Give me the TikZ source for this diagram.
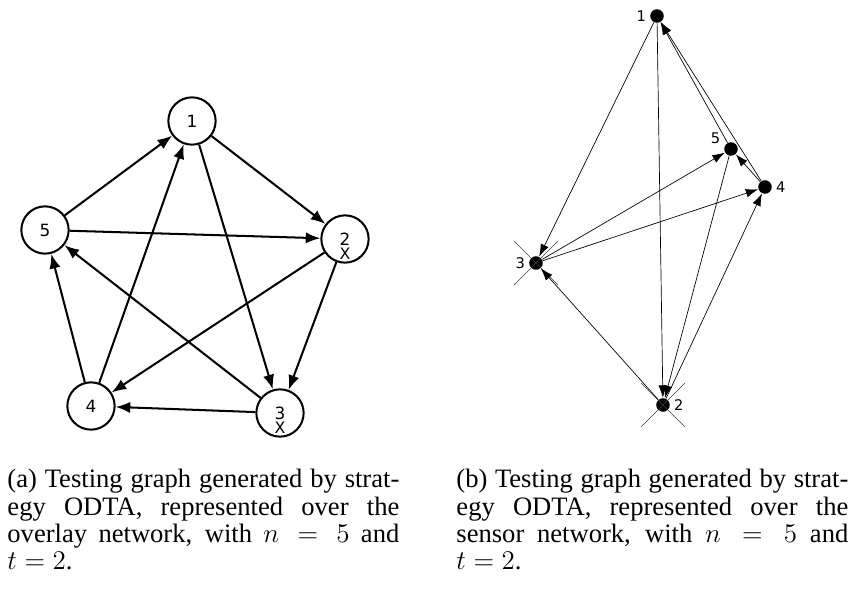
\documentclass[tikz,border=0pt]{standalone}
\usepackage{fontspec}
\setmainfont{Liberation Serif}
\newfontfamily\graphfont{DejaVu Sans}
\usetikzlibrary{arrows.meta}

\begin{document}
\begin{tikzpicture}[x=0.444pt, y=-0.444pt,
        onode/.style={draw, circle, line width=0.9pt, inner sep=0pt, minimum size=21pt, font=\graphfont\fontsize{7.5}{8}\selectfont},
        oedge/.style={-{Latex[length=6.5pt,width=5pt]}, line width=0.9pt},
        snode/.style={circle, fill, inner sep=0pt, minimum size=6pt},
        slabel/.style={font=\graphfont\fontsize{6.5}{7}\selectfont, inner sep=1.5pt},
        sedge/.style={-{Latex[length=5.5pt,width=3.8pt]}, line width=0.3pt},
        xmark/.style={font=\graphfont\fontsize{7}{7}\selectfont, inner sep=0pt, yshift=-6.5pt},
        crossline/.style={line width=0.3pt, black!75},
        caption/.style={text width=174pt, align=justify, inner sep=0pt, anchor=base west, font=\fontsize{11.8}{12}\selectfont}]
        \useasboundingbox (0,0) rectangle (853,590);

        % Define the nodes (overlay network)
        \node[onode] (o1) at (192,121) {1};
        \node[onode] (o5) at (45,230) {5};
        \node[onode, label={[xmark]center:X}] (o2) at (345,239) {2};
        \node[onode] (o4) at (91,406) {4};
        \node[onode, label={[xmark]center:X}] (o3) at (280,413) {3};

        % Draw the edges
        \draw[oedge] (o1) -- (o2);
        \draw[oedge] (o1) -- (o3);
        \draw[oedge] (o5) -- (o1);
        \draw[oedge] (o4) -- (o1);
        \draw[oedge] (o5) -- (o2);
        \draw[oedge] (o3) -- (o5);
        \draw[oedge] (o2) -- (o4);
        \draw[oedge] (o2) -- (o3);
        \draw[oedge] (o3) -- (o4);
        \draw[oedge] (o4) -- (o5);

        % Define the nodes (sensor network)
        \node[snode, label={[slabel]left:1}] (s1) at (657,16) {};
        \node[snode, label={[slabel]170:5}] (s5) at (731,149) {};
        \node[snode, label={[slabel]right:4}] (s4) at (765,187) {};
        \node[snode, label={[slabel]left:3}] (s3) at (536,263) {};
        \node[snode, label={[slabel]right:2}] (s2) at (663,405) {};

        % Crosses on the faulty sensors
        \draw[crossline] (s3) ++(-22,-22) -- ++(44,44);
        \draw[crossline] (s3) ++(-22,22) -- ++(44,-44);
        \draw[crossline] (s2) ++(-22,-22) -- ++(44,44);
        \draw[crossline] (s2) ++(-22,22) -- ++(44,-44);

        % Draw the edges
        \draw[sedge] (s1) -- (s2);
        \draw[sedge] (s1) -- (s3);
        \draw[sedge] (s5) -- (s1);
        \draw[sedge] (s4) -- (s1);
        \draw[sedge] (s5) -- (s2);
        \draw[sedge] (s3) -- (s5);
        \draw[sedge] (s2) -- (s4);
        \draw[sedge] (s2) -- (s3);
        \draw[sedge] (s3) -- (s4);
        \draw[sedge] (s4) -- (s5);

        % Add captions
        \node[caption] (capa) at (7,488) {(a) Testing graph generated by strat-\linebreak egy ODTA, represented over the\linebreak overlay network, with $n = 5$ and\linebreak $t = 2$.};
        \node[caption] (capb) at (456,488) {(b) Testing graph generated by strat-\linebreak egy ODTA, represented over the\linebreak sensor network, with $n = 5$ and\linebreak $t = 2$.};
    \end{tikzpicture}
\end{document}
